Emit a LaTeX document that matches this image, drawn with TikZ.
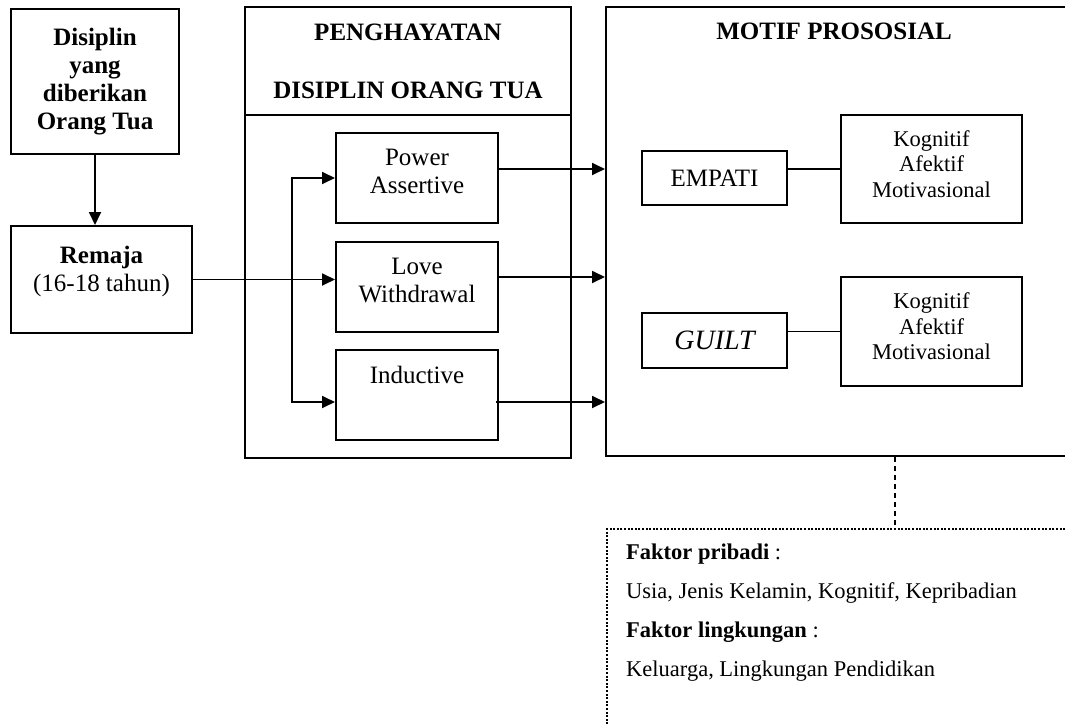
\documentclass[tikz,border=0pt]{standalone}
\usepackage{fontspec}
\setmainfont{Liberation Serif}
\usetikzlibrary{arrows.meta}

\begin{document}
\begin{tikzpicture}[x=1pt,y=-1pt,
	kotak/.style={draw, line width=2pt, align=center, inner sep=0pt, font=\fontsize{25}{28}\selectfont},
	kecil/.style={kotak, font=\fontsize{22.5}{25.5}\selectfont},
	tebal/.style={kotak, font=\fontsize{25}{28}\selectfont\bfseries},
	panah/.style={line width=1.8pt, -{Triangle[length=13pt,width=12pt]}},
	garis/.style={line width=1.8pt}]
\useasboundingbox (0,0) rectangle (1065,725);

				\begin{scope}
	\node[tebal, minimum width=168, minimum height=145] (ortu) at (95,81.5) {Disiplin\\yang\\diberikan\\Orang Tua};
	\node[kotak, minimum width=181, minimum height=107] (remaja) at (101.5,279.5) {\textbf{Remaja}\\(16-18 tahun)\\[-6pt]\mbox{}};
				\end{scope}

				\begin{scope}
	\node[tebal, minimum width=326, minimum height=108] (judul) at (408,61) {PENGHAYATAN\\[30pt]DISIPLIN ORANG TUA};
	\node[kotak, minimum width=326, minimum height=343] (badan) at (408,286.5) {};
	\node[kotak, minimum width=162, minimum height=90] (power) at (417,178) {Power\\Assertive\\[-14pt]\mbox{}};
	\node[kotak, minimum width=162, minimum height=90] (love) at (417,287) {Love\\Withdrawal\\[-14pt]\mbox{}};
	\node[kotak, minimum width=162, minimum height=90] (induk) at (417,395) {Inductive\\[12pt]\mbox{}};
				\end{scope}

				\begin{scope}
	\node[kotak, minimum width=464, minimum height=449,
		label={[anchor=base, font=\fontsize{25}{28}\selectfont\bfseries, xshift=-4pt, yshift=-34pt]north:MOTIF PROSOSIAL}] (motif) at (838,231.5) {};
	\node[kotak, minimum width=145, minimum height=54] (empati) at (714.5,178) {EMPATI};
	\node[kotak, minimum width=145, minimum height=55, font=\fontsize{28}{30}\selectfont\itshape] (guilt) at (714.5,340.5) {GUILT};
	\node[kecil, minimum width=181, minimum height=108] (kog1) at (931.5,169) {Kognitif\\Afektif\\Motivasional\\[-15.5pt]\mbox{}};
	\node[kecil, minimum width=181, minimum height=109] (kog2) at (931.5,331.5) {Kognitif\\Afektif\\Motivasional\\[-15.5pt]\mbox{}};
				\end{scope}

	\node[draw, line width=2pt, dash pattern=on 2pt off 1.6pt, minimum width=576, minimum height=271, inner sep=0pt] (faktor) at (895,664.5) {};
	\node[anchor=north west, inner sep=0pt, align=left, font=\fontsize{22.5}{39}\selectfont] (isi) at ([xshift=20pt,yshift=-15.5pt]faktor.north west)
		{\textbf{Faktor pribadi} :\\Usia, Jenis Kelamin, Kognitif, Kepribadian\\\textbf{Faktor lingkungan} :\\Keluarga, Lingkungan Pendidikan};

	\coordinate (cabang) at (292,279.5);
	\coordinate (pa) at ([yshift=9pt]power.east);
	\coordinate (lw) at ([yshift=10pt]love.east);
	\coordinate (in) at ([xshift=-3pt,yshift=-7pt]induk.east);
	\coordinate (inw) at ([yshift=-7pt]induk.west);

	\draw[panah] (ortu.south) -- (ortu.south |- remaja.north);
	\draw[panah] (remaja.east) -- (remaja.east -| love.west);
	\draw[panah] (cabang) |- (power.west);
	\draw[panah] (cabang) |- (inw);
	\draw[panah] (pa) -- (pa -| motif.west);
	\draw[panah] (lw) -- (lw -| motif.west);
	\draw[panah] (in) -- (in -| motif.west);
	\draw[garis] (empati.east |- kog1.west) -- (kog1.west);
	\draw[garis] (guilt.east |- kog2.west) -- (kog2.west);
	\draw[garis, dash pattern=on 5pt off 4pt] (motif.south -| faktor.north) -- (faktor.north);

\end{tikzpicture}
\end{document}
